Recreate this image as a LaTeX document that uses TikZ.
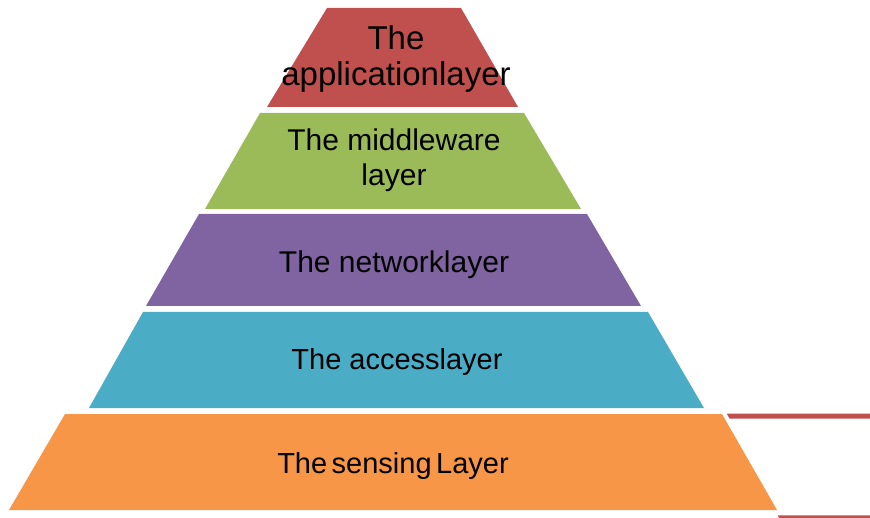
\documentclass[tikz,border=0pt]{standalone}
\usepackage{fontspec}
\setmainfont{Liberation Sans}
\definecolor{lred}{HTML}{C0504D}
\definecolor{lgreen}{HTML}{9BBB59}
\definecolor{lpurple}{HTML}{8064A2}
\definecolor{lteal}{HTML}{4BACC6}
\definecolor{lorange}{HTML}{F79646}
\tikzset{
  lbl/.style={inner sep=0pt, text=black, align=center, anchor=base},
  bigfont/.style={font=\fontsize{33}{36.4}\selectfont},
  midfont/.style={font=\fontsize{30}{35.3}\selectfont},
  smallfont/.style={font=\fontsize{29}{34}\selectfont},
}
\begin{document}
\begin{tikzpicture}[x=1pt,y=-1pt]
\useasboundingbox (0,0) rectangle (870,518);
% layers
\fill[lred]    (327,8)   -- (461,8)   -- (518,107) -- (267,107) -- cycle;
\fill[lgreen]  (260,113) -- (524,113) -- (581,209) -- (205,209) -- cycle;
\fill[lpurple] (199,214) -- (587,214) -- (641,306) -- (146,306) -- cycle;
\fill[lteal]   (143,312) -- (648,312) -- (704,408) -- (89,408)  -- cycle;
\fill[lorange] (65,414)  -- (722,414) -- (777,510) -- (9,510)   -- cycle;
% red bars at right
\fill[lred] (726.7,413.5) -- (870,413.5) -- (870,418.5) -- (729.5,418.5) -- cycle;
\fill[lred] (777.7,515.3) -- (870,515.3) -- (870,518) -- (779,518) -- cycle;
% labels
\node[lbl,bigfont] (app) at (396,85.7) {The\\applicationlayer};
\node[lbl,midfont] (mid) at (394,186) {The middleware\\layer};
\node[lbl,midfont] (net) at (394,272.3) {The networklayer};
\node[lbl,smallfont] (acc) at (397,370) {The accesslayer};
\node[lbl,smallfont] (sen) at (393,473) {The\hspace{4.5pt}sensing\hspace{4.5pt}Layer};
\end{tikzpicture}
\end{document}
